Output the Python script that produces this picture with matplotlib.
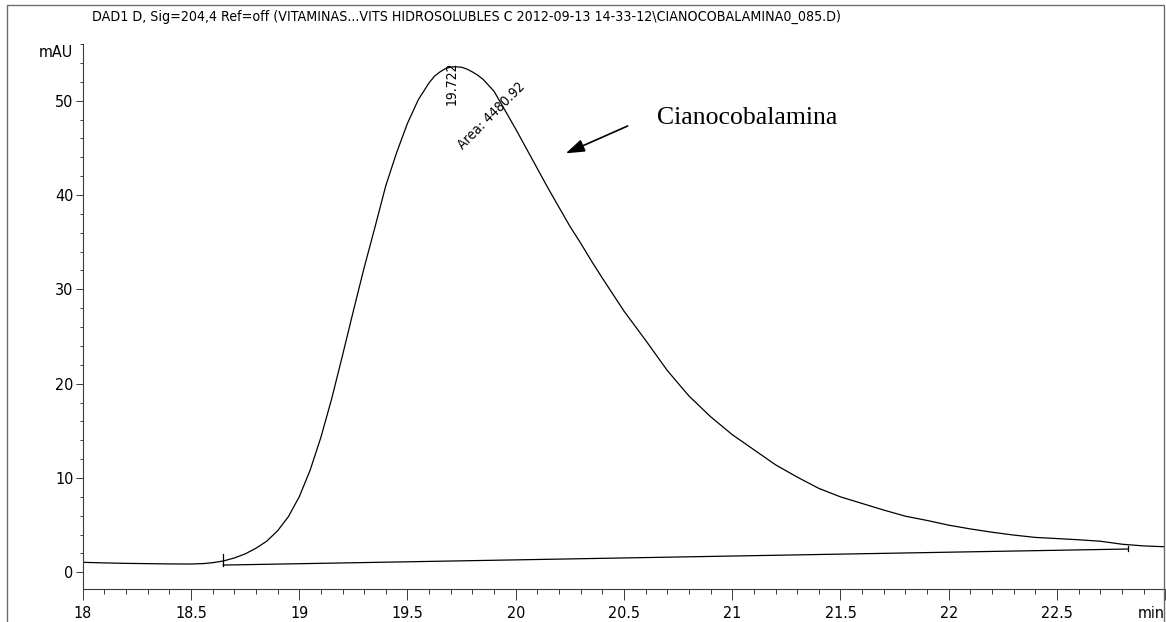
import matplotlib
matplotlib.use("Agg")
import matplotlib.pyplot as plt
from matplotlib.ticker import MultipleLocator, FixedLocator, FixedFormatter
from matplotlib.patches import Rectangle

# DAD1 D trace, 204 nm (time in min, signal in mAU)
t_min = [18.00, 18.10, 18.20, 18.30, 18.40, 18.50, 18.56, 18.60, 18.649, 18.70,
         18.75, 18.80, 18.85, 18.90, 18.95, 19.00, 19.05, 19.10, 19.15, 19.20,
         19.25, 19.30, 19.35, 19.40, 19.45, 19.50, 19.55, 19.575, 19.60, 19.625,
         19.65, 19.675, 19.70, 19.722, 19.75, 19.775, 19.80, 19.825, 19.85, 19.90,
         19.95, 20.00, 20.05, 20.10, 20.15, 20.20, 20.25, 20.30, 20.35, 20.40,
         20.50, 20.60, 20.70, 20.80, 20.90, 21.00, 21.10, 21.20, 21.30, 21.40,
         21.50, 21.60, 21.70, 21.80, 21.90, 22.00, 22.10, 22.20, 22.30, 22.40,
         22.50, 22.60, 22.70, 22.80, 22.90, 23.00]
signal = [1.06, 1.00, 0.95, 0.92, 0.89, 0.88, 0.93, 1.02, 1.20, 1.52,
          1.95, 2.55, 3.30, 4.40, 5.90, 8.00, 10.8, 14.3, 18.4, 23.0,
          27.7, 32.3, 36.6, 41.0, 44.5, 47.6, 50.1, 51.0, 51.9, 52.6,
          53.05, 53.4, 53.57, 53.6, 53.55, 53.35, 53.05, 52.7, 52.25, 51.0,
          49.0, 47.0, 44.9, 42.8, 40.7, 38.7, 36.7, 34.9, 33.0, 31.2,
          27.7, 24.6, 21.4, 18.7, 16.5, 14.6, 13.0, 11.4, 10.1, 8.9,
          8.0, 7.3, 6.6, 5.95, 5.5, 5.0, 4.6, 4.25, 3.95, 3.70,
          3.58, 3.45, 3.30, 2.98, 2.80, 2.71]

# integration baseline and its start/end marks
base_t = [18.649, 22.827]
base_v = [0.77, 2.47]
start_mark = [0.70, 1.94]
end_mark = [2.26, 2.82]

peak_rt = 19.722
peak_area = 4480.92

x_ticks = [18, 18.5, 19, 19.5, 20, 20.5, 21, 21.5, 22, 22.5, 23]
x_labels = ["18", "18.5", "19", "19.5", "20", "20.5", "21", "21.5", "22", "22.5", "min"]
y_ticks = [0, 10, 20, 30, 40, 50]

title = ("DAD1 D, Sig=204,4 Ref=off (VITAMINAS...VITS HIDROSOLUBLES C "
         "2012-09-13 14-33-12\\CIANOCOBALAMINA0_085.D)")

cond = dict(family="DejaVu Sans", stretch="condensed")
axcol = "#3a3a3a"

fig = plt.figure(figsize=(11.66, 6.22), dpi=100)
ax = fig.add_axes([0.07093, 0.05257, 0.9284, 0.8765])

ax.plot(t_min, signal, color="black", lw=0.9)
ax.plot(base_t, base_v, color="black", lw=0.9)
ax.plot([base_t[0], base_t[0]], start_mark, color="black", lw=0.9)
ax.plot([base_t[1], base_t[1]], end_mark, color="black", lw=0.9)

ax.set_xlim(18, 23)
ax.set_ylim(-1.8, 56)

for side in ["top", "right"]:
    ax.spines[side].set_visible(False)
for side in ["left", "bottom"]:
    ax.spines[side].set_color(axcol)
    ax.spines[side].set_linewidth(0.8)

ax.xaxis.set_major_locator(FixedLocator(x_ticks))
ax.xaxis.set_major_formatter(FixedFormatter(x_labels))
ax.xaxis.set_minor_locator(MultipleLocator(0.1))
ax.yaxis.set_major_locator(FixedLocator(y_ticks))
ax.yaxis.set_minor_locator(MultipleLocator(2))

ax.tick_params(axis="x", which="major", direction="out", length=8, width=0.7,
               color=axcol, pad=4, labelsize=11.5)
ax.tick_params(axis="x", which="minor", direction="out", length=3.6, width=0.7, color=axcol)
ax.tick_params(axis="y", which="major", direction="out", length=5.4, width=0.7,
               color=axcol, pad=1.2, labelsize=11.5)
ax.tick_params(axis="y", which="minor", direction="out", length=2.4, width=0.7, color=axcol)
for lab in ax.get_xticklabels() + ax.get_yticklabels():
    lab.set_family(cond["family"])
    lab.set_stretch(cond["stretch"])
# unit label sits at the right end of the time axis
ax.get_xticklabels()[-1].set_horizontalalignment("right")

ax.annotate("mAU", xy=(0, 55.1), xycoords=("axes fraction", "data"),
            xytext=(-6.8, 0), textcoords="offset points",
            ha="right", va="center", fontsize=11.5, **cond)

# peak labels
ax.text(19.706, 51.9, f"{peak_rt:.3f}", rotation=90, ha="center", va="center",
        fontsize=10, **cond)
ax.text(19.887, 48.35, f"Area: {peak_area:.2f}", rotation=45, ha="center", va="center",
        fontsize=10, rotation_mode="anchor", **cond)

ax.annotate("", xy=(20.231, 44.42), xytext=(20.517, 47.32),
            arrowprops=dict(arrowstyle="-|>,head_length=0.95,head_width=0.32",
                            mutation_scale=12, color="black", lw=1.2,
                            shrinkA=0, shrinkB=0))
ax.text(20.651, 47.48, "Cianocobalamina", ha="left", va="baseline",
        fontsize=18.5, family=["Liberation Serif", "DejaVu Serif"])

fig.text(92 / 1166, 1 - 17 / 622, title, ha="left", va="center",
         fontsize=10.2, **cond)

# outer report frame
fig.patches.append(Rectangle((7 / 1166, -0.1), 1157 / 1166, 1.1 - 5 / 622,
                             transform=fig.transFigure, fill=False,
                             edgecolor="#6e6e6e", lw=1.0))

fig.savefig("out.png", dpi=100)
